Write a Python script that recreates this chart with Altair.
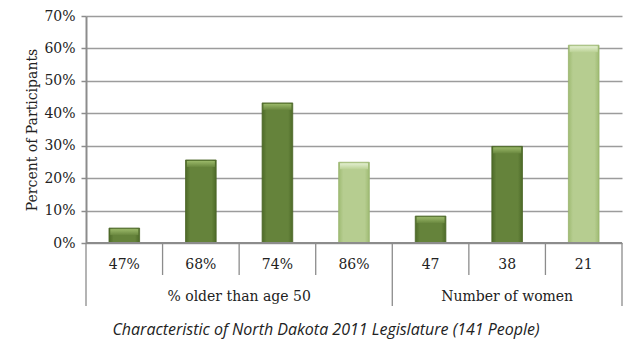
import altair as alt
import pandas as pd

# Share of participants for each characteristic of the 2011 legislature
categories = ["47%", "68%", "74%", "86%", "47", "38", "21"]
groups = ["% older than age 50"] * 4 + ["Number of women"] * 3
shares = [0.046, 0.256, 0.432, 0.249, 0.083, 0.298, 0.610]
shades = ["dark", "dark", "dark", "light", "dark", "dark", "light"]

group_names = ["% older than age 50", "Number of women"]
group_spans = [(0, 4), (4, 7)]
y_ticks = [0, 0.1, 0.2, 0.3, 0.4, 0.5, 0.6, 0.7]

n = len(categories)
bars = pd.DataFrame({
    "category": categories,
    "group": groups,
    "share": shares,
    "shade": shades,
    "pos": [i + 0.5 for i in range(n)],
    "left": [i + 0.3 for i in range(n)],
    "right": [i + 0.7 for i in range(n)],
})

# cell borders of the category table under the plot
borders = pd.DataFrame({
    "edge": list(range(n + 1)),
    "outer": [e in (0, 4, 7) for e in range(n + 1)],
})
group_df = pd.DataFrame({
    "group": group_names,
    "center": [(a + b) / 2 for a, b in group_spans],
})

W, H = 536, 227
SERIF = "DejaVu Serif"
GRAY = "#8c8c8c"

x_scale = alt.Scale(domain=[0, n], nice=False, zero=False)
x_enc = dict(scale=x_scale, axis=None)

y_axis = alt.Axis(
    values=y_ticks,
    format=".0%",
    labelOverlap=False,
    tickCount=len(y_ticks),
    title="Percent of Participants",
    titleFont=SERIF, titleFontSize=14, titleFontWeight="normal", titleColor="#222",
    titlePadding=4,
    labelFont=SERIF, labelFontSize=14, labelColor="#222", labelPadding=6,
    tickSize=5, tickColor=GRAY, tickWidth=1.5,
    domainColor=GRAY, domainWidth=2,
    grid=True, gridColor="#9c9c9c", gridWidth=1.4,
)
y_scale = alt.Scale(domain=[0, 0.7], nice=False)


def side_shade(edge, mid):
    return alt.Gradient(
        gradient="linear", x1=0, x2=1, y1=0, y2=0,
        stops=[
            alt.GradientStop(color=edge, offset=0),
            alt.GradientStop(color=mid, offset=0.15),
            alt.GradientStop(color=mid, offset=0.85),
            alt.GradientStop(color=edge, offset=1),
        ],
    )


def cap_shade(top, bottom):
    return alt.Gradient(
        gradient="linear", x1=0, x2=0, y1=0, y2=1,
        stops=[
            alt.GradientStop(color=top, offset=0),
            alt.GradientStop(color=bottom, offset=1),
        ],
    )


styles = {
    "dark": dict(body=side_shade("#4d6a28", "#65833b"), stroke="#4a6526",
                 cap=cap_shade("#9ab869", "#6a883f")),
    "light": dict(body=side_shade("#9fbb73", "#b6cd90"), stroke="#98b46c",
                  cap=cap_shade("#e2eecf", "#bad194")),
}

base = alt.Chart(bars)
layers = []
for shade, st in styles.items():
    subset = base.transform_filter(alt.datum.shade == shade)
    layers.append(
        subset.mark_rect(fill=st["body"], stroke=st["stroke"], strokeWidth=0.8).encode(
            x=alt.X("left:Q", **x_enc),
            x2="right:Q",
            y=alt.Y("share:Q", scale=y_scale, axis=y_axis),
            y2=alt.Y2Datum(0),
        )
    )
    # lighter bevel along the top of each bar
    layers.append(
        subset.mark_tick(color=st["cap"], orient="horizontal", size=28,
                         thickness=6, yOffset=4, opacity=1).encode(
            x=alt.X("pos:Q", **x_enc),
            y=alt.Y("share:Q", scale=y_scale, axis=y_axis),
        )
    )

# bottom axis line
baseline = alt.Chart(pd.DataFrame({"a": [0], "b": [n], "z": [0.0]})).mark_rule(
    color=GRAY, strokeWidth=2
).encode(
    x=alt.X("a:Q", **x_enc), x2="b:Q",
    y=alt.Y("z:Q", scale=y_scale, axis=y_axis),
)

inner_borders = alt.Chart(borders).transform_filter(~alt.datum.outer).mark_rule(
    color=GRAY, strokeWidth=1.3
).encode(
    x=alt.X("edge:Q", **x_enc), y=alt.value(H), y2=alt.value(H + 32)
)
outer_borders = alt.Chart(borders).transform_filter(alt.datum.outer).mark_rule(
    color=GRAY, strokeWidth=1.3
).encode(
    x=alt.X("edge:Q", **x_enc), y=alt.value(H), y2=alt.value(H + 63)
)

cat_labels = base.mark_text(
    font=SERIF, fontSize=14, color="#222", baseline="middle"
).encode(
    x=alt.X("pos:Q", **x_enc), y=alt.value(H + 22), text="category:N"
)
grp_labels = alt.Chart(group_df).mark_text(
    font=SERIF, fontSize=14, color="#222", baseline="middle"
).encode(
    x=alt.X("center:Q", **x_enc), y=alt.value(H + 54), text="group:N"
)

caption = alt.Chart(pd.DataFrame({"c": [n / 2], "t": ["Characteristic of North Dakota 2011 Legislature (141 People)"]})).mark_text(
    font="Open Sans", fontStyle="italic", fontSize=16, color="#222",
    baseline="middle", dx=-28
).encode(
    x=alt.X("c:Q", **x_enc), y=alt.value(H + 87), text="t:N"
)

chart = alt.layer(
    *layers, baseline, inner_borders, outer_borders,
    cat_labels, grp_labels, caption
).properties(
    width=W, height=H,
    padding={"left": 86, "top": 16, "right": 6, "bottom": 98},
    autosize=alt.AutoSizeParams(type="none"),
    background="white",
).configure_view(stroke=None)

chart.save("out.html", embed_options={"renderer": "svg", "actions": False})
